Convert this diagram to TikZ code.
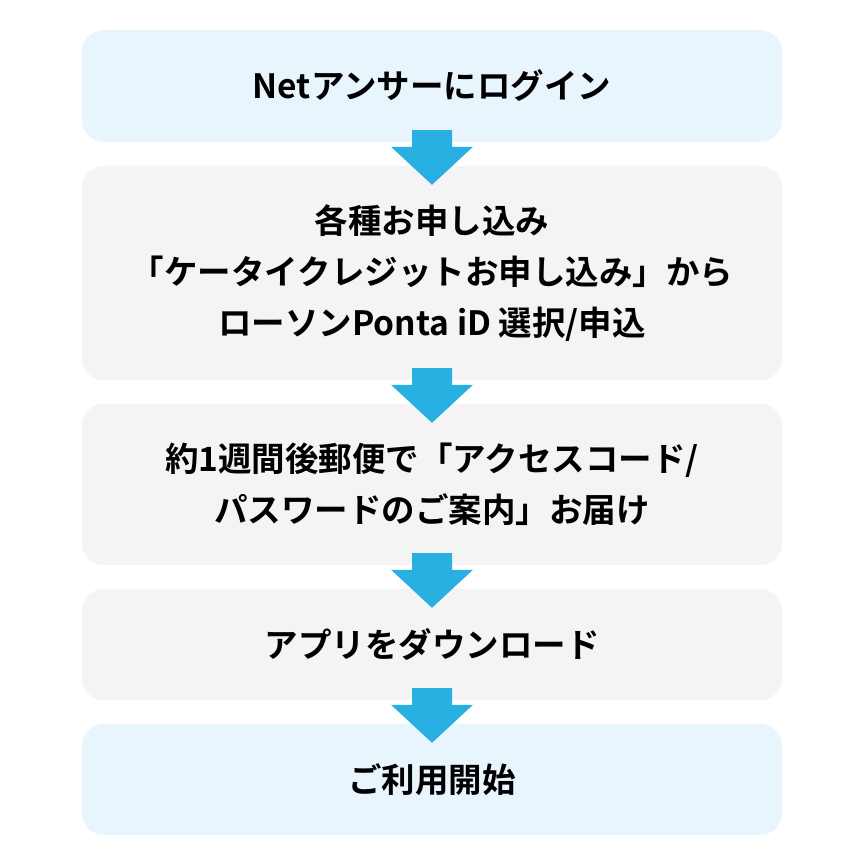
\documentclass[tikz,border=0pt]{standalone}
\usepackage{fontspec}
\newfontfamily\jp{Noto Sans CJK JP Bold}
\usetikzlibrary{calc}
\definecolor{lblue}{HTML}{E8F5FD}
\definecolor{lgray}{HTML}{F4F4F4}
\definecolor{arr}{HTML}{29B0E3}
\tikzset{box/.style={rounded corners=22pt,minimum width=700pt,align=center,font=\jp\fontsize{33.5pt}{51pt}\selectfont,text=black,inner sep=0pt},
bl/.style={box,fill=lblue},gr/.style={box,fill=lgray}}
\newcommand{\flowarrow}[2]{\fill[arr] ($(#1.south)+(-20pt,12pt)$) -- ($(#1.south)+(20pt,12pt)$) -- ($(#2.north)+(20pt,19pt)$) -- ($(#2.north)+(41pt,19pt)$) -- ($(#2.north)+(0pt,-19pt)$) -- ($(#2.north)+(-41pt,19pt)$) -- ($(#2.north)+(-20pt,19pt)$) -- cycle;}
\begin{document}
\begin{tikzpicture}[x=1pt,y=1pt]
\useasboundingbox[fill=white] (0,0) rectangle (864,864);
\node[bl,minimum height=112pt] (a) at (432,778) {Netアンサーにログイン};
\node[gr,minimum height=214pt] (b) at (432,591) {各種お申し込み\\「ケータイクレジットお申し込み」から\\ローソンPonta iD 選択/申込};
\node[gr,minimum height=161pt] (c) at (432,379.5) {約1週間後郵便で「アクセスコード/\\パスワードのご案内」お届け};
\node[gr,minimum height=111pt] (d) at (432,219.5) {アプリをダウンロード};
\node[bl,minimum height=111pt] (e) at (432,84.5) {ご利用開始};
\flowarrow{a}{b}
\flowarrow{b}{c}
\flowarrow{c}{d}
\flowarrow{d}{e}
\end{tikzpicture}
\end{document}
